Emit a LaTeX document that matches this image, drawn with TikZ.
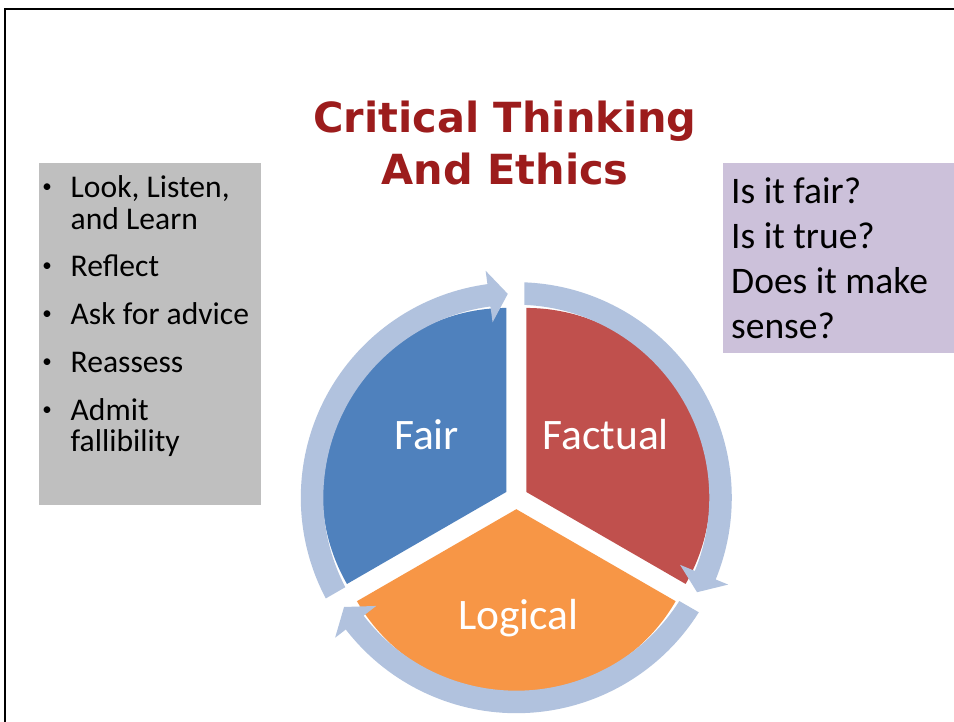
\documentclass[tikz,border=0pt]{standalone}
\usepackage{fontspec}
\setmainfont{Carlito}
\newfontfamily\titlefont{DejaVu Sans}
\definecolor{fairblue}{HTML}{4F81BD}
\definecolor{factred}{HTML}{C0504D}
\definecolor{logorange}{HTML}{F79646}
\definecolor{ringcol}{RGB}{177,194,222}
\definecolor{boxgray}{HTML}{BFBFBF}
\definecolor{boxlilac}{HTML}{CCC1DA}
\definecolor{titlered}{HTML}{9C1C1C}
\newcommand\ringarrow[2]{%
  \fill[ringcol] ({#1-asin(8/215.5)}:215.5)
    arc[start angle={#1-asin(8/215.5)}, end angle={#2+7.7}, radius=215.5]
    -- ({#2+7.7}:229) -- ({#2+2.4}:204) -- ({#2+7.7}:177) -- ({#2+7.7}:193)
    arc[start angle={#2+7.7}, end angle={#1-asin(8/193)}, radius=193] -- cycle;}
\tikzset{
  framestyle/.style={draw=black, line width=2pt},
  titletext/.style={inner sep=0pt, anchor=base, text=titlered, font=\titlefont\bfseries\fontsize{41.5}{48}\selectfont},
  bullettext/.style={inner sep=0pt, anchor=base west, font=\fontsize{31.6}{32}\selectfont},
  bulletdot/.style={inner sep=0pt, anchor=base, yshift=5pt, font=\fontsize{19}{20}\selectfont},
  asktext/.style={inner sep=0pt, anchor=base west, font=\fontsize{37.5}{45}\selectfont},
  pielabel/.style={inner sep=0pt, anchor=base, text=white, font=\fontsize{43.5}{50}\selectfont},
}
\begin{document}
\begin{tikzpicture}[x=1pt,y=1pt]
\useasboundingbox (0,0) rectangle (954,721);
\clip (0,0) rectangle (954,721);
\fill[white] (0,0) rectangle (954,721);
% frame
\coordinate (fbl) at (5,-5);
\coordinate (ftl) at (5,712);
\coordinate (ftr) at (960,712);
\draw[framestyle] (fbl) -- (ftl) -- (ftr);
% side boxes
\fill[boxgray] (39,558) rectangle (261,216);
\fill[boxlilac] (723,558) rectangle (960,368);
% title
\node[titletext] (t1) at (505,588) {Critical Thinking};
\node[titletext] (t2) at (505,536) {And Ethics};
% left list
\node[bulletdot] (b1) at (47,523.3) {•};
\node[bullettext] (l1) at (70.5,523.3) {Look, Listen,};
\node[bullettext] (l1b) at (70.5,491.7) {and Learn};
\node[bulletdot] (b2) at (47,444.3) {•};
\node[bullettext] (l2) at (70.5,444.3) {Reflect};
\node[bulletdot] (b3) at (47,396) {•};
\node[bullettext] (l3) at (70.5,396) {Ask for advice};
\node[bulletdot] (b4) at (47,348.3) {•};
\node[bullettext] (l4) at (70.5,348.3) {Reassess};
\node[bulletdot] (b5) at (47,300.3) {•};
\node[bullettext] (l5) at (70.5,300.3) {Admit};
\node[bullettext] (l5b) at (70.5,269.3) {fallibility};
% right questions
\node[asktext] (q1) at (731,517) {Is it fair?};
\node[asktext] (q2) at (731,472) {Is it true?};
\node[asktext] (q3) at (731,427) {Does it make};
\node[asktext] (q4) at (731,382) {sense?};
% cycle
\begin{scope}[shift={(516.3,223.3)}]
  \fill[fairblue] (150:11.5) -- ++(90:184) arc[start angle=90, end angle=210, radius=184] -- cycle;
  \fill[factred] (30:11.5) -- ++(-30:184) arc[start angle=-30, end angle=90, radius=184] -- cycle;
  \fill[logorange] (270:11.5) -- ++(210:184) arc[start angle=210, end angle=330, radius=184] -- cycle;
  \ringarrow{210}{90}
  \ringarrow{90}{-30}
  \ringarrow{-30}{-150}
\end{scope}
\node[pielabel] (fair) at (426.7,271) {Fair};
\node[pielabel] (factual) at (605.8,271) {Factual};
\node[pielabel] (logical) at (518.3,91) {Logical};
\end{tikzpicture}
\end{document}
